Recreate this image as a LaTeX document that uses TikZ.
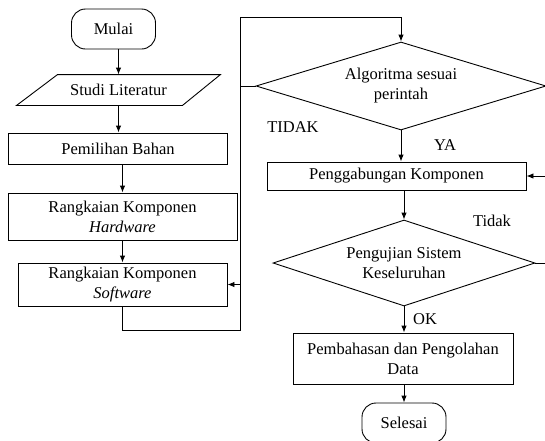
\documentclass[tikz,border=0pt]{standalone}
\usepackage{fontspec}
\setmainfont{Liberation Serif}
\usetikzlibrary{shapes.geometric,arrows.meta,calc}

\begin{document}
\begin{tikzpicture}[x=1pt,y=-1pt,
		every node/.style={font=\fontsize{16.5}{20}\selectfont},
		line width=0.9pt,
		proses/.style={draw, rectangle, inner sep=0pt, align=center},
		terminal/.style={draw, rectangle, rounded corners=14pt, inner sep=0pt, minimum width=84pt, minimum height=40pt},
		keputusan/.style={draw, diamond, shape aspect=3, inner sep=0pt, align=center},
		panah/.style={-{Latex[length=7pt,width=5.5pt]}},
		ket/.style={inner sep=0pt}]
		\useasboundingbox (0,0) rectangle (545,440);

		% LEFT COLUMN
		\node[terminal] (mulai) at (113.5,29) {Mulai};
		\node[inner sep=0pt, minimum width=203pt, minimum height=30pt] (studi) at (118.5,90) {Studi Literatur};
		\draw ($(studi.north west)+(41,0)$) -- (studi.north east) -- ($(studi.south east)+(-38,0)$) -- (studi.south west) -- cycle; % parallelogram
		\node[proses, minimum width=219pt, minimum height=31pt] (pemilihan) at (118,148.5) {Pemilihan Bahan};
		\node[proses, minimum width=229pt, minimum height=47pt] (hardware) at (122.5,216.5) {Rangkaian Komponen\\\textit{Hardware}};
		\node[proses, minimum width=209pt, minimum height=43pt] (software) at (122.5,284.5) {Rangkaian Komponen\\\textit{Software}};

		% RIGHT COLUMN
		\node[keputusan, minimum width=290pt, minimum height=88pt] (algoritma) at (401,86) {Algoritma sesuai\\perintah};
		\node[proses, minimum width=259pt, minimum height=28pt] (penggabungan) at (396.5,176) {Penggabungan Komponen};
		\node[keputusan, minimum width=262pt, minimum height=86pt] (pengujian) at (404,263) {Pengujian Sistem\\Keseluruhan};
		\node[proses, minimum width=220pt, minimum height=51pt] (pembahasan) at (403,358.5) {Pembahasan dan Pengolahan\\Data};
		\node[terminal] (selesai) at (404,423) {Selesai};

		% Labels
		\node[ket] (tidak1) at (293,127) {TIDAK};
		\node[ket] (ya) at (445,145) {YA};
		\node[ket] (tidak2) at (492,221) {Tidak};
		\node[ket] (ok) at (425,319) {OK};

		% Helper points for the loops
		\coordinate (bawah) at (240,330);
		\coordinate (atas) at (240,17);
		\coordinate (kanan) at (548,176);

		% Straight arrows
		\draw[panah] (studi.north |- mulai.south) -- (studi.north);
		\draw[panah] (studi.south) -- (studi.south |- pemilihan.north);
		\draw[panah] (hardware.north |- pemilihan.south) -- (hardware.north);
		\draw[panah] (hardware.south) -- (software.north);
		\draw[panah] (algoritma.south) -- (algoritma.south |- penggabungan.north);
		\draw[panah] (pengujian.north |- penggabungan.south) -- (pengujian.north);
		\draw[panah] (pengujian.south) -- (pengujian.south |- pembahasan.north);
		\draw[panah] (selesai.north |- pembahasan.south) -- (selesai.north);

		% Loops
		\draw[panah] (software.south) |- (bawah) -- (atas) -| (algoritma.north);
		\draw[panah] (algoritma.west) -| (atas |- software.east) -- (software.east);
		\draw[panah] (pengujian.east) -| (kanan) -- (penggabungan.east);
	\end{tikzpicture}
\end{document}
